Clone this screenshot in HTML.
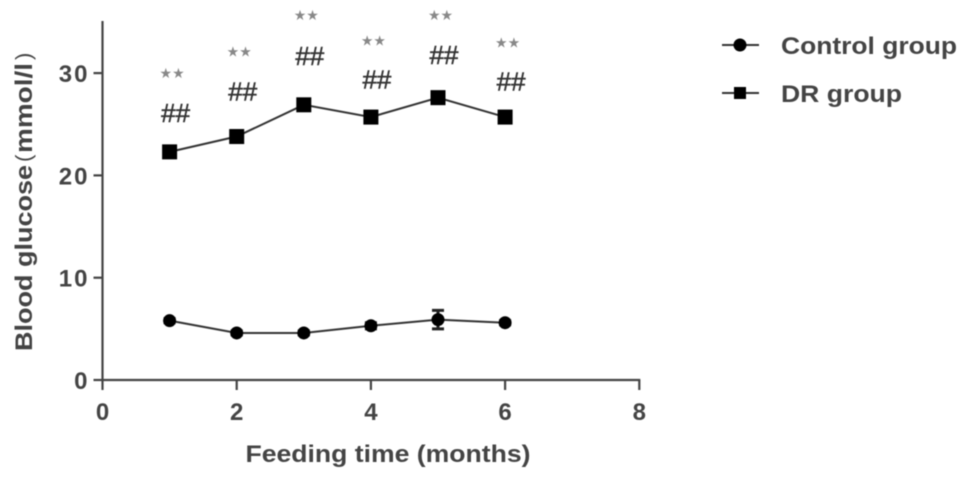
<!DOCTYPE html>
<html>
<head>
<meta charset="utf-8">
<style>
html,body{margin:0;padding:0;background:#fff;width:969px;height:480px;overflow:hidden}
svg{display:block;filter:blur(0.5px)}
text{font-family:"Liberation Sans",sans-serif}
</style>
</head>
<body>
<svg id="chart" width="969" height="480" viewBox="0 0 969 480" xmlns="http://www.w3.org/2000/svg">
  <g font-size="24" font-weight="bold" fill="#444">
    <text transform="translate(32,351) rotate(-90)" textLength="186" lengthAdjust="spacingAndGlyphs">Blood glucose</text>
    <text transform="translate(31,162) rotate(-90)" font-weight="normal" font-size="22">(</text>
    <text transform="translate(32,153) rotate(-90)" textLength="90" lengthAdjust="spacingAndGlyphs">mmol/l</text>
    <text transform="translate(31,60) rotate(-90)" font-weight="normal" font-size="22">)</text>
  </g>
  <text x="388" y="462" text-anchor="middle" font-size="24" font-weight="bold" fill="#444" textLength="285" lengthAdjust="spacingAndGlyphs">Feeding time (months)</text>
  <g id="axes"></g>
  <g id="series"></g>
  <g id="annotations"></g>
  <g>
    <g>
      <line x1="722" y1="45" x2="759" y2="45" stroke="#333" stroke-width="2"/>
      <circle cx="740" cy="45" r="6.5" fill="#000"/>
      <text x="781" y="54" font-size="24" font-weight="bold" fill="#444" textLength="176" lengthAdjust="spacingAndGlyphs">Control group</text>
    </g>
    <g>
      <line x1="722" y1="93" x2="759" y2="93" stroke="#333" stroke-width="2"/>
      <rect x="734" y="87" width="12" height="12" fill="#000"/>
      <text x="781" y="102" font-size="24" font-weight="bold" fill="#444" textLength="121" lengthAdjust="spacingAndGlyphs">DR group</text>
    </g>
  </g>
</svg>
<script>
const months = [1, 2, 3, 4, 5, 6];
const controlValues = [5.8, 4.6, 4.6, 5.3, 5.9, 5.6];
const controlErrors = [0.2, 0.2, 0.2, 0.3, 0.9, 0.2];
const drValues = [22.3, 23.8, 26.9, 25.7, 27.6, 25.7];
const hashLevels = [25.2, 27.3, 30.8, 28.5, 30.9, 28.3];
const starLevels = [29.5, 31.6, 35.2, 32.7, 35.2, 32.5];
const xTicks = [0, 2, 4, 6, 8];
const yTicks = [0, 10, 20, 30];

const NS = 'http://www.w3.org/2000/svg';
const sx = v => 102.5 + v * 67.1;
const sy = v => 380 - v * 10.23;
function mk(parent, tag, attrs, txt) {
  const el = document.createElementNS(NS, tag);
  for (const k in attrs) el.setAttribute(k, attrs[k]);
  if (txt !== undefined) el.textContent = txt;
  parent.appendChild(el);
  return el;
}
const axes = document.getElementById('axes');
const series = document.getElementById('series');
const notes = document.getElementById('annotations');
const axisStyle = {stroke: '#444', 'stroke-width': 2.2};

const yLine = mk(axes, 'line', {x1: sx(0), x2: sx(0), y1: 21, y2: 381, ...axisStyle});


const xLine = mk(axes, 'line', {x1: sx(0), x2: sx(8) + 1, y1: sy(0), y2: sy(0), ...axisStyle});



yTicks.forEach(t => {
  const tick = mk(axes, 'line', {x1: sx(0) - 9, x2: sx(0), y1: sy(t), y2: sy(t), ...axisStyle});
  
  
  const label = mk(axes, 'text', {x: sx(0) - 13, y: sy(t) + 9, 'text-anchor': 'end', 'font-size': 24, 'font-weight': 'bold', fill: '#444', 'letter-spacing': 2}, t);
  
  
});
xTicks.forEach(t => {
  const tick = mk(axes, 'line', {x1: sx(t), x2: sx(t), y1: sy(0), y2: sy(0) + 10, ...axisStyle});
  
  
  const label = mk(axes, 'text', {x: sx(t), y: 420, 'text-anchor': 'middle', 'font-size': 24, 'font-weight': 'bold', fill: '#444'}, t);
  
  
});

const pts = vals => months.map((m, i) => sx(m) + ',' + sy(vals[i])).join(' ');
const controlLine = mk(series, 'polyline', {points: pts(controlValues), fill: 'none', stroke: '#333', 'stroke-width': 2});


const drLine = mk(series, 'polyline', {points: pts(drValues), fill: 'none', stroke: '#333', 'stroke-width': 2});



months.forEach((m, i) => {
  const cx = sx(m);
  const top = sy(controlValues[i] + controlErrors[i]);
  const bot = sy(controlValues[i] - controlErrors[i]);
  const err = mk(series, 'path', {d: `M${cx - 6} ${top}H${cx + 6}M${cx} ${top}V${bot}M${cx - 6} ${bot}H${cx + 6}`, fill: 'none', stroke: '#222', 'stroke-width': 3});
  
  
  const dot = mk(series, 'circle', {cx: cx, cy: sy(controlValues[i]), r: 6.5, fill: '#000'});
  
  
  const sq = mk(series, 'rect', {x: cx - 7.5, y: sy(drValues[i]) - 7.5, width: 15, height: 15, fill: '#000'});
  
  
  const hash = mk(notes, 'text', {x: cx + 6, y: sy(hashLevels[i]), 'text-anchor': 'middle', 'font-size': 26, fill: '#333', stroke: '#333', 'stroke-width': 0.5}, '##');
  
  
  const star = mk(notes, 'text', {x: cx + 2.5, y: sy(starLevels[i]), 'text-anchor': 'middle', 'font-size': 14, fill: '#888', style: 'font-family:"DejaVu Sans",sans-serif'}, '★★');
  
  
});
</script>
</body>
</html>
